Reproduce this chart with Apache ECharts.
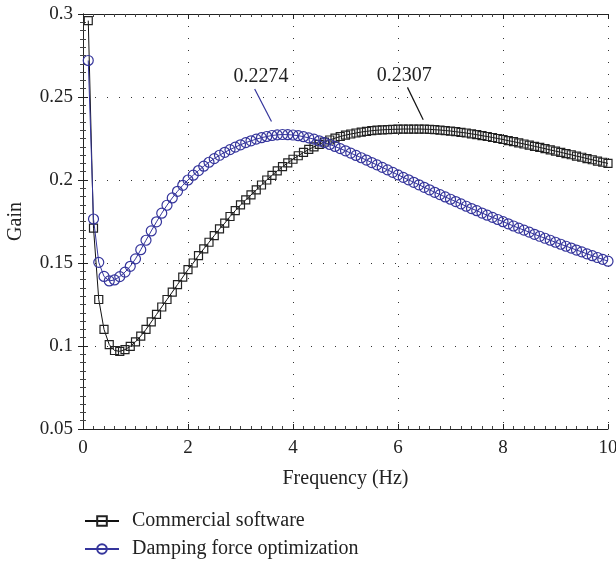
<!DOCTYPE html>
<html>
<head>
<meta charset="utf-8">
<script src="https://cdn.jsdelivr.net/npm/echarts@6/dist/echarts.min.js"></script>
<style>html,body{margin:0;padding:0;background:#fff}#c{width:616px;height:563px}</style>
</head>
<body>
<div id="c"></div>
<script>
const freq = [0.1,0.2,0.3,0.4,0.5,0.6,0.7,0.8,0.9,1.0,1.1,1.2,1.3,1.4,1.5,1.6,1.7,1.8,1.9,2.0,2.1,2.2,2.3,2.4,2.5,2.6,2.7,2.8,2.9,3.0,3.1,3.2,3.3,3.4,3.5,3.6,3.7,3.8,3.9,4.0,4.1,4.2,4.3,4.4,4.5,4.6,4.7,4.8,4.9,5.0,5.1,5.2,5.3,5.4,5.5,5.6,5.7,5.8,5.9,6.0,6.1,6.2,6.3,6.4,6.5,6.6,6.7,6.8,6.9,7.0,7.1,7.2,7.3,7.4,7.5,7.6,7.7,7.8,7.9,8.0,8.1,8.2,8.3,8.4,8.5,8.6,8.7,8.8,8.9,9.0,9.1,9.2,9.3,9.4,9.5,9.6,9.7,9.8,9.9,10.0];
const commercial = [0.296,0.171,0.128,0.110,0.1008,0.0973,0.0968,0.0978,0.0998,0.1025,0.106,0.110,0.1145,0.119,0.1235,0.128,0.1325,0.137,0.1415,0.146,0.150,0.1545,0.1585,0.1625,0.1665,0.1705,0.174,0.178,0.1815,0.185,0.188,0.191,0.194,0.197,0.200,0.2028,0.2055,0.208,0.2103,0.2125,0.2146,0.2166,0.2184,0.2200,0.2215,0.2229,0.2241,0.2252,0.2262,0.2270,0.2277,0.2283,0.2289,0.2293,0.2297,0.2300,0.2302,0.2304,0.2305,0.2306,0.2307,0.2307,0.2307,0.2307,0.2306,0.2305,0.2303,0.2301,0.2298,0.2295,0.2291,0.2287,0.2283,0.2278,0.2273,0.2267,0.2262,0.2256,0.2250,0.2244,0.2237,0.2231,0.2224,0.2217,0.2210,0.2203,0.2196,0.2189,0.2181,0.2174,0.2167,0.2159,0.2152,0.2144,0.2137,0.2129,0.2122,0.2114,0.2107,0.2100];
const damping = [0.272,0.1765,0.1504,0.1419,0.1392,0.1398,0.1418,0.1445,0.148,0.1525,0.158,0.1637,0.1693,0.1748,0.1800,0.1848,0.1892,0.1932,0.1968,0.2000,0.2029,0.2057,0.2083,0.2107,0.2129,0.2149,0.2167,0.2183,0.2198,0.2212,0.2225,0.2236,0.2246,0.2255,0.2262,0.2268,0.2272,0.2274,0.2273,0.2271,0.2267,0.2261,0.2254,0.2246,0.2236,0.2225,0.2214,0.2202,0.2189,0.2176,0.2162,0.2148,0.2134,0.2120,0.2105,0.2091,0.2076,0.2061,0.2046,0.2031,0.2016,0.2001,0.1986,0.1971,0.1956,0.1941,0.1926,0.1912,0.1898,0.1884,0.1870,0.1856,0.1842,0.1828,0.1815,0.1801,0.1788,0.1775,0.1762,0.1749,0.1736,0.1723,0.1710,0.1698,0.1686,0.1673,0.1661,0.1649,0.1637,0.1625,0.1613,0.1601,0.1590,0.1578,0.1567,0.1555,0.1544,0.1533,0.1522,0.1511];
const seriesNames = ['Commercial software','Damping force optimization'];
// annotation: [text, textX, textY, lineStartX, lineStartY, lineEndX, lineEndY]
const damperNote = ['0.2274', 3.39, 0.2619, 3.27, 0.2548, 3.59, 0.2353];
const commercialNote = ['0.2307', 6.12, 0.2631, 6.18, 0.2558, 6.48, 0.2363];

const FONT = 'Liberation Serif';
const TXT = '#222';
const BLUE = '#35359c';

function pairs(xs, ys){ return xs.map((x,i)=>[x, ys[i]]); }
function note(n, color){
  return {
    markLine: {
      silent: true, symbol: ['none','none'],
      lineStyle: {color: color, width: 1.2, type: 'solid'},
      label: {show: false},
      data: [[{coord: [n[3], n[4]]}, {coord: [n[5], n[6]]}]]
    },
    markPoint: {
      silent: true, symbol: 'circle', symbolSize: 0,
      label: {show: true, formatter: n[0], fontFamily: FONT, fontSize: 20, color: TXT, position: 'inside'},
      data: [{coord: [n[1], n[2]]}]
    }
  };
}
const axisCommon = {
  axisLine: {show: true, lineStyle: {color: '#222', width: 1}},
  axisTick: {show: true, inside: true, length: 5, lineStyle: {color: '#222'}},
};
const chart = echarts.init(document.getElementById('c'));
chart.setOption({
  animation: false,
  backgroundColor: '#fff',
  grid: {left: 83, right: 8, top: 14, bottom: 134, containLabel: false, outerBoundsMode: 'none'},
  legend: {
    orient: 'vertical', left: 84, top: 511, padding: 0, itemWidth: 34, itemHeight: 12, itemGap: 8,
    textStyle: {fontFamily: FONT, fontSize: 20, color: TXT, padding: [0, 0, 0, 8]},
    data: seriesNames
  },
  xAxis: [
    Object.assign({}, axisCommon, {
      type: 'value', min: 0, max: 10, interval: 2,
      minorTick: {show: true, splitNumber: 10, length: 3, lineStyle: {color: '#444'}},
      axisLabel: {fontFamily: FONT, fontSize: 19, color: TXT, margin: 10},
      name: 'Frequency (Hz)', nameLocation: 'middle', nameGap: 40,
      nameTextStyle: {fontFamily: FONT, fontSize: 20, color: TXT},
      splitLine: {show: true, lineStyle: {color: '#333', width: 1, type: [1, 11]}}
    }),
    Object.assign({}, axisCommon, {
      type: 'value', min: 0, max: 10, interval: 2, position: 'top',
      minorTick: {show: true, splitNumber: 10, length: 3, lineStyle: {color: '#444'}},
      axisLabel: {show: false}, splitLine: {show: false}
    })
  ],
  yAxis: [
    Object.assign({}, axisCommon, {
      type: 'value', min: 0.05, max: 0.3, interval: 0.05,
      minorTick: {show: true, splitNumber: 10, length: 3, lineStyle: {color: '#444'}},
      axisLabel: {fontFamily: FONT, fontSize: 19, color: TXT, margin: 10, formatter: v => String(+v.toFixed(2))},
      name: 'Gain', nameLocation: 'middle', nameGap: 57, nameRotate: 90,
      nameTextStyle: {fontFamily: FONT, fontSize: 20, color: TXT},
      splitLine: {show: true, lineStyle: {color: '#333', width: 1, type: [1, 11]}}
    }),
    Object.assign({}, axisCommon, {
      type: 'value', min: 0.05, max: 0.3, interval: 0.05, position: 'right',
      minorTick: {show: true, splitNumber: 10, length: 3, lineStyle: {color: '#444'}},
      axisLabel: {show: false}, splitLine: {show: false}
    })
  ],
  series: [
    Object.assign({
      name: seriesNames[0], type: 'line', data: pairs(freq, commercial),
      symbol: 'rect', symbolSize: 8, showAllSymbol: true,
      lineStyle: {color: '#111', width: 1},
      itemStyle: {color: 'rgba(255,255,255,0)', borderColor: '#222', borderWidth: 1.2},
      z: 3
    }, note(commercialNote, '#111')),
    Object.assign({
      name: seriesNames[1], type: 'line', data: pairs(freq, damping),
      symbol: 'circle', symbolSize: 10, showAllSymbol: true,
      lineStyle: {color: BLUE, width: 1},
      itemStyle: {color: 'rgba(255,255,255,0)', borderColor: BLUE, borderWidth: 1.2},
      z: 4
    }, note(damperNote, BLUE))
  ]
});
</script>
</body>
</html>
